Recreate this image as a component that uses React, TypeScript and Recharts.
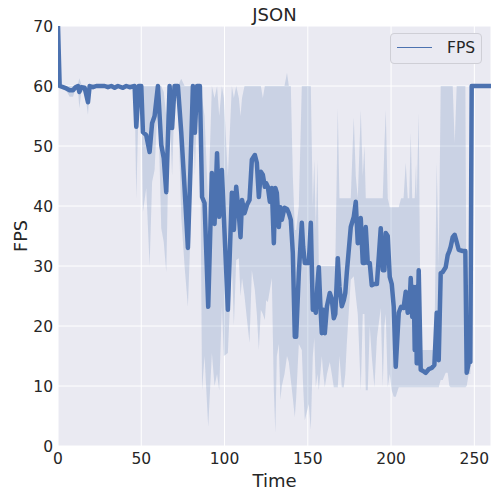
import React from 'react';
import { ComposedChart, Line, Area, XAxis, YAxis, CartesianGrid, Label } from 'recharts';

const times = [0,1,3,5,7,9,10.5,12,12.8,14,16,18,19,21,23,28,30,32,34,36,39,41,43,46,47,48.5,50,51,53,55,56.5,58,60,62,63.5,65,67,68.5,70,72,74,76,78,79.5,81,82.2,83.5,85.2,86.5,88,90.2,92.4,94,95.5,96.8,98.4,99.6,102,104.4,105.6,107,108.6,109.6,110.5,112,113.5,115,116.4,118.2,119.4,120.6,121.8,123,124.2,125,126,127.2,128.4,129.6,130.5,131.4,132.6,133.5,134.4,136,137.5,138.6,139.8,141,142.2,143,144.6,146.4,147.2,148.2,150.6,151.8,153,153.9,154.8,155.8,156.6,157.5,158.4,159.3,160.2,161.5,163.2,164.4,165.6,166.5,168,169,170.4,171.6,172.5,173.4,175.8,177.6,178.8,180,181.8,183,184,184.8,186,187.2,188.4,190,191.5,193.8,195,196,196.8,198,199.2,200.4,201.6,202.8,204.6,206,207.5,208.8,210,210.9,211.8,212.7,213.6,214.2,215,215.4,216.6,217.8,219.2,220.8,222.6,224.4,226,227.4,228.6,229.8,231,232.8,234,235,235.8,237,238.2,239.4,240.6,243,244.6,245.4,246.6,247.6,248.4,260];

const fpsMean = [70,60,59.8,59.6,59.3,59.3,59.8,60,59,59.8,59.7,57.3,60,59.8,60,60,59.8,60,59.7,60,59.7,60,59.8,60,53.2,60,60,52.3,51.8,49,53.8,55,60,50.2,48,42.3,60,53,60,60,52.3,43,33,46,60,52.2,60,60,41.5,40.5,23.2,45.5,37,48.8,38.2,46,38.2,22.7,42.2,36,43.2,38.5,34.8,41,38.8,40.2,41,47.7,48.5,47.2,41.5,45.7,45.2,43.2,43.8,43.2,40.7,43,33.8,43,42.2,36.5,39.8,37.7,39.7,39.5,38.8,37.7,32.2,18.2,18.2,28.8,37.2,33.2,30.5,30.5,37.2,22.7,23.3,22.2,27,29.8,23.8,18.8,22.7,18.8,23.3,25.5,24.5,21.3,22,31.3,26.5,23.3,24.3,25.5,28.8,36.5,38.2,40.7,33.8,38,30.5,30.5,36.5,30.5,30.5,26.8,27,27,36.3,29.3,29.3,35.5,35,28.2,27,23.2,13.2,22.2,23.2,23,25.7,22.2,22.5,28,21.5,26.5,16,26.5,13.8,29.3,12.7,12.5,12.2,12.8,13,13.5,22.2,14.3,28.8,29,29.8,31.8,32.5,33.2,34.8,35.2,34,32.7,32.5,32.5,12.2,13.8,14,60,60];

const fpsLow = [70,60,59.5,59.2,58.2,58.2,59.4,59.5,56.3,59,59.2,55.2,59.7,59.5,60,60,59.5,60,59.3,60,59.3,60,59.5,60,41.3,58,60,39,43,30,44,46,58,36.3,34,29,57,45,58,58,38.2,30,23.2,35,56,45,57,58,9.3,15,3.2,15.5,10,12,9.3,23.3,15,15.5,31,20,31,31.3,25,28,25,21,17.2,29.3,26,22,16,22.7,22,21,24.3,24,26,28,9.3,2.2,15,17,7.7,10,12,15,14,11,8,4.8,8,17,16,10,4.3,7,2.7,15,18,9.8,12,9.3,12,15,12,9.8,12,14,12,9.8,9.8,9.8,15,9.8,9.8,12,17,27.7,28.3,25,22,9.3,22,22,9.3,9.3,20,15,9.8,18,23,9.8,20,22,9.8,12,9.3,8.2,8.2,9.8,9.8,9.8,9.8,9.8,9.8,9.8,9.8,9.8,9.8,9.8,9.8,9.8,9.8,9.8,9.8,9.8,9.8,9.8,9.8,9.8,11,11,12.2,12.2,10,9.8,9.8,9.8,9.8,9.8,9.8,9.8,10,12,12,60,60];

const fpsHigh = [70,60,60,60,60,60,60,60.3,61.3,60.3,60,59.5,60,60,60,60,60,60,60,60,60,60,60,60,60,60,60,60,60,60,60,60,60,60,59,55,60,60,60,60,61.2,60,60,60,60,60,60,60,58,55,40,60,58,60,55,60,58,45,60,58,60,58,55,58,60,60,60,60,60,60,60,60,58,60,60,60,60,60,60,60,60,60,60,60,60,62.2,60,60,45,36,36,40,60,60,60,60,60,40,47.7,36,47.7,30,30,30,30,30,30,30,30,30,30,56.3,41.3,41.3,41.3,41.3,41.3,41.3,54.8,45,41.3,56,45,50,41.3,41.3,41.3,41.3,41.3,41.3,41.3,41.3,50,56,41.3,39.8,39.8,39.8,39.8,39.8,41.3,41.3,47.2,41.3,41.3,52.2,41.3,41.3,41.3,47,41.3,55.5,16,16,16,16,16,16,47.2,30,60,60,60,60,60,60,60,50.5,60,60,60,60,15,16,18,60,60];

const xTicks = [0, 50, 100, 150, 200, 250];
const yTicks = [0, 10, 20, 30, 40, 50, 60, 70];

const rows = times.map((t, i) => ({
  time: t,
  fps: fpsMean[i],
  band: [fpsLow[i], fpsHigh[i]],
}));

const FONT = '"DejaVu Sans", sans-serif';
const BLUE = '#4C72B0';
const TEXT = '#262626';

export default function App() {
  return (
    <div style={{ position: 'absolute', left: 0, top: 0, width: 491, height: 494, background: '#fff', fontFamily: FONT }}>
      <ComposedChart
        width={491}
        height={494}
        data={rows}
        margin={{ top: 26, right: 0, left: 0, bottom: 0 }}
      >
        <CartesianGrid stroke="#ffffff" strokeWidth={1} fill="#EAEAF2" fillOpacity={1} />
        <XAxis
          dataKey="time"
          type="number"
          domain={[0, 260]}
          ticks={xTicks}
          allowDataOverflow
          axisLine={false}
          tickLine={false}
          tickSize={0}
          tickMargin={7}
          height={48}
          tick={{ fill: TEXT, fontSize: 15.5, fontFamily: FONT }}
        >
          <Label value="Time" position="insideBottom" offset={7} style={{ fill: TEXT, fontSize: 18, fontFamily: FONT }} />
        </XAxis>
        <YAxis
          type="number"
          domain={[0, 70]}
          ticks={yTicks}
          allowDataOverflow
          axisLine={false}
          tickLine={false}
          tickSize={0}
          tickMargin={5}
          width={58}
          tick={{ fill: TEXT, fontSize: 15.5, fontFamily: FONT }}
        >
          <Label value="FPS" angle={-90} position="insideLeft" offset={21} style={{ fill: TEXT, fontSize: 17.5, fontFamily: FONT, textAnchor: 'middle' }} />
        </YAxis>
        <Area
          dataKey="band"
          type="linear"
          stroke="none"
          fill={BLUE}
          fillOpacity={0.2}
          isAnimationActive={false}
          activeDot={false}
        />
        <Line
          dataKey="fps"
          type="linear"
          stroke={BLUE}
          strokeWidth={4.5}
          strokeLinejoin="round"
          strokeLinecap="butt"
          dot={false}
          activeDot={false}
          isAnimationActive={false}
        />
      </ComposedChart>
      <div style={{ position: 'absolute', left: 0, width: 549, top: 6, textAlign: 'center', fontSize: 18, lineHeight: '18px', color: TEXT }}>JSON</div>
      <div style={{ position: 'absolute', left: 390, top: 33, width: 92, height: 31, boxSizing: 'border-box', border: '1px solid #CFCFD6', borderRadius: 4, background: '#EAEAF2' }}>
        <div style={{ position: 'absolute', left: 6, top: 13, width: 35, height: 1, background: BLUE }} />
        <div style={{ position: 'absolute', left: 56, top: 5, fontSize: 15.5, lineHeight: '18px', color: TEXT }}>FPS</div>
      </div>
    </div>
  );
}
